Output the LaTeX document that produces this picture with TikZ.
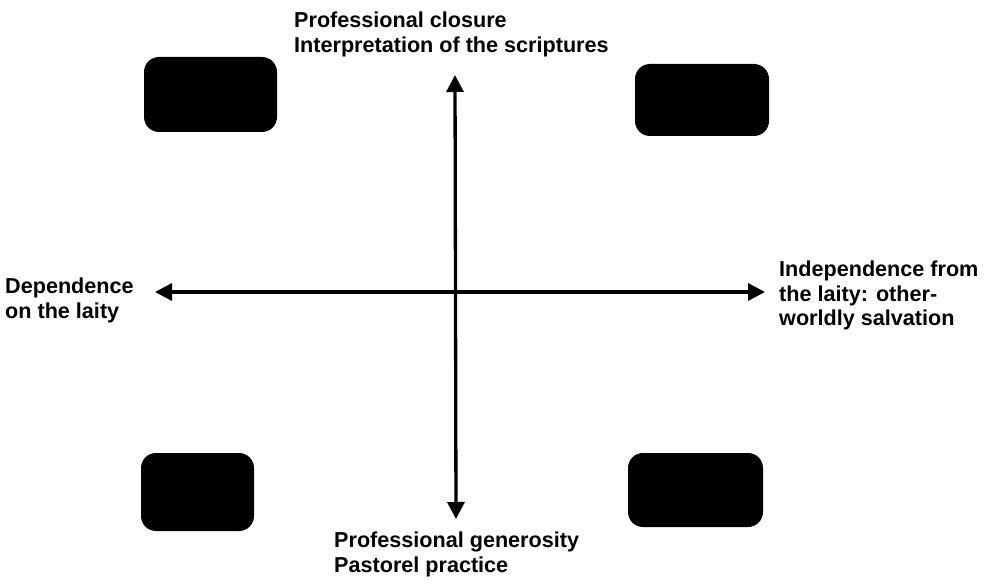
\documentclass[tikz,border=0pt]{standalone}
\usepackage{fontspec}
\setmainfont{Liberation Sans}
\usetikzlibrary{arrows.meta}
\begin{document}
\begin{tikzpicture}[x=1pt,y=-1pt,
  blob/.style={fill=black,draw=none,rounded corners=15pt,inner sep=0pt},
  lbl/.style={anchor=north west,inner sep=0pt,align=left,
    font=\fontsize{21.6}{24.2}\selectfont\bfseries},
  axis/.style={line width=3.3pt,{Triangle[length=17pt,width=17pt]}-{Triangle[length=17pt,width=17pt]}}]
\useasboundingbox (0,0) rectangle (990,588);
% boxes
\node[blob,minimum width=133pt,minimum height=75pt] (tl) at (210.5,94.5) {};
\node[blob,minimum width=134pt,minimum height=72pt] (tr) at (702,100) {};
\node[blob,minimum width=113pt,minimum height=78pt] (bl) at (197.5,492) {};
\node[blob,minimum width=135pt,minimum height=74pt] (br) at (695.5,490) {};
% axis ends
\coordinate (top) at (455,75);
\coordinate (bottom) at (456,519);
\coordinate (left) at (155,292);
\coordinate (right) at (765,292);
\draw[axis] (top) -- (bottom);
\draw[axis] (left) -- (right);
% labels
\node[lbl] (toplbl) at (294,12) {Professional closure\\Interpretation of the scriptures};
\node[lbl] (botlbl) at (334,532) {Professional generosity\\Pastorel practice};
\node[lbl] (leftlbl) at (5,278) {Dependence\\on the laity};
\node[lbl] (rightlbl) at (779,261) {Independence from\\the laity: other-\\worldly salvation};
\end{tikzpicture}
\end{document}
